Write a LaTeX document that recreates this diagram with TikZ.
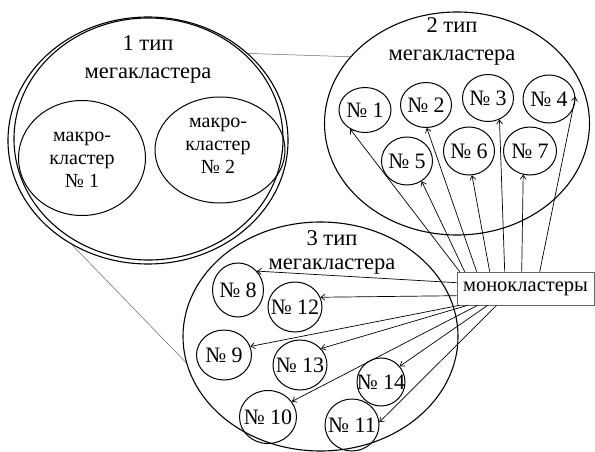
\documentclass[tikz,border=0pt]{standalone}
\usepackage{fontspec}
\setmainfont{Liberation Serif}
\usetikzlibrary{shapes.geometric,arrows.meta}
\begin{document}
\begin{tikzpicture}[x=1pt,y=-1pt,
  big/.style={ellipse,draw,line width=1.1pt,inner sep=0pt},
  cl/.style={ellipse,draw,line width=1pt,inner sep=0pt},
  every label/.append style={font=\fontsize{22}{24}\selectfont,inner sep=0pt},
  arr/.style={-{Straight Barb[length=4pt,width=6pt]},line width=0.7pt},
  link/.style={draw=black!60,line width=0.5pt},
  ttl/.style={align=center,font=\fontsize{22.5}{28}\selectfont,inner sep=0pt},
  macro/.style={align=center,font=\fontsize{20}{23}\selectfont,inner sep=0pt},
]
\useasboundingbox (0,0) rectangle (595,452);

% megaclusters
\node[big,minimum width=280pt,minimum height=247pt] (E1) at (148,140.5) {};
\node[big,minimum width=269pt,minimum height=242pt] (E1b) at (148.5,139) {};
\node[big,minimum width=265pt,minimum height=223pt] (E2) at (457,123.5) {};
\node[big,minimum width=275pt,minimum height=229pt] (E3) at (320.5,336.5) {};

\node[ttl] (t1) at (148,59) {1 тип\\мегакластера};
\node[ttl] (t2) at (452,41) {2 тип\\мегакластера};
\node[ttl,font=\fontsize{22.5}{24}\selectfont] (t3) at (332,252) {3 тип\\мегакластера};

% macroclusters
\node[cl,minimum width=127pt,minimum height=115pt] (m1) at (82,158) {};
\node[macro] (m1t) at (82,160) {макро-\\кластер\\№ 1};
\node[cl,minimum width=130pt,minimum height=106pt] (m2) at (220,150) {};
\node[macro] (m2t) at (218,146) {макро-\\кластер\\№ 2};

% links between megaclusters
\draw[link] (E1.41) -- (E2.148);
\draw[link] (E1.234) -- (E3.191);

% monoclusters of type 2
\node[cl,minimum width=52pt,minimum height=45pt,label=center:{№ 1}] (c1) at (365,110) {};
\node[cl,minimum width=51pt,minimum height=45pt,label=center:{№ 2}] (c2) at (426,105) {};
\node[cl,minimum width=51pt,minimum height=47pt,label=center:{№ 3}] (c3) at (488,98) {};
\node[cl,minimum width=52pt,minimum height=48pt,label=center:{№ 4}] (c4) at (549,99) {};
\node[cl,minimum width=51pt,minimum height=48pt,label=center:{№ 5}] (c5) at (407,161) {};
\node[cl,minimum width=51pt,minimum height=48pt,label=center:{№ 6}] (c6) at (469,151) {};
\node[cl,minimum width=53pt,minimum height=48pt,label=center:{№ 7}] (c7) at (530,151) {};

% monoclusters of type 3
\node[cl,minimum width=51pt,minimum height=54pt,label=center:{№ 8}] (c8) at (238,290) {};
\node[cl,minimum width=54pt,minimum height=50pt,label=center:{№ 12}] (c12) at (295,307) {};
\node[cl,minimum width=55pt,minimum height=50pt,label=center:{№ 9}] (c9) at (224,355) {};
\node[cl,minimum width=54pt,minimum height=50pt,label=center:{№ 13}] (c13) at (300,365) {};
\node[cl,minimum width=57pt,minimum height=53pt,label=center:{№ 10}] (c10) at (268,417) {};
\node[cl,minimum width=48pt,minimum height=48pt,label=center:{№ 14}] (c14) at (381,382) {};
\node[cl,minimum width=54pt,minimum height=52pt,label=center:{№ 11}] (c11) at (352,425) {};

% label box
\node[draw=black!60,line width=0.6pt,minimum width=137pt,minimum height=33pt,inner sep=0pt,
      font=\fontsize{20.5}{24}\selectfont] (mono) at (525.5,288.5) {монокластеры};

\coordinate (s1) at ([xshift=3pt]mono.north west);
\coordinate (s5) at ([xshift=8pt]mono.north west);
\coordinate (s2) at ([xshift=20pt]mono.north west);
\coordinate (s6) at ([xshift=33pt]mono.north west);
\coordinate (s3) at ([xshift=48pt]mono.north west);
\coordinate (s7) at ([xshift=65pt]mono.north west);
\coordinate (s4) at ([xshift=83pt]mono.north west);
\coordinate (s8) at ([yshift=-11pt]mono.north west);
\coordinate (s12) at ([yshift=-24pt]mono.north west);
\coordinate (s9) at ([xshift=3pt]mono.south west);
\coordinate (s13) at ([xshift=11pt]mono.south west);
\coordinate (s10) at ([xshift=21pt]mono.south west);
\coordinate (s14) at ([xshift=31pt]mono.south west);
\coordinate (s11) at ([xshift=40pt]mono.south west);

\draw[arr] (s1) -- (c1.232);
\draw[arr] (s2) -- (c2.272);
\draw[arr] (s3) -- (c3.298);
\draw[arr] (s4) -- (c4.5);
\draw[arr] (s5) -- (c5.306);
\draw[arr] (s6) -- (c6.277);
\draw[arr] (s7) -- (c7.254);
\draw[arr] (s8) -- (c8.45);
\draw[arr] (s12) -- (c12.21);
\draw[arr] (s9) -- (c9.18);
\draw[arr] (s13) -- (c13.38);
\draw[arr] (s10) -- (c10.33);
\draw[arr] (s14) -- (c14.40);
\draw[arr] (s11) -- (c11.6);
\end{tikzpicture}
\end{document}
